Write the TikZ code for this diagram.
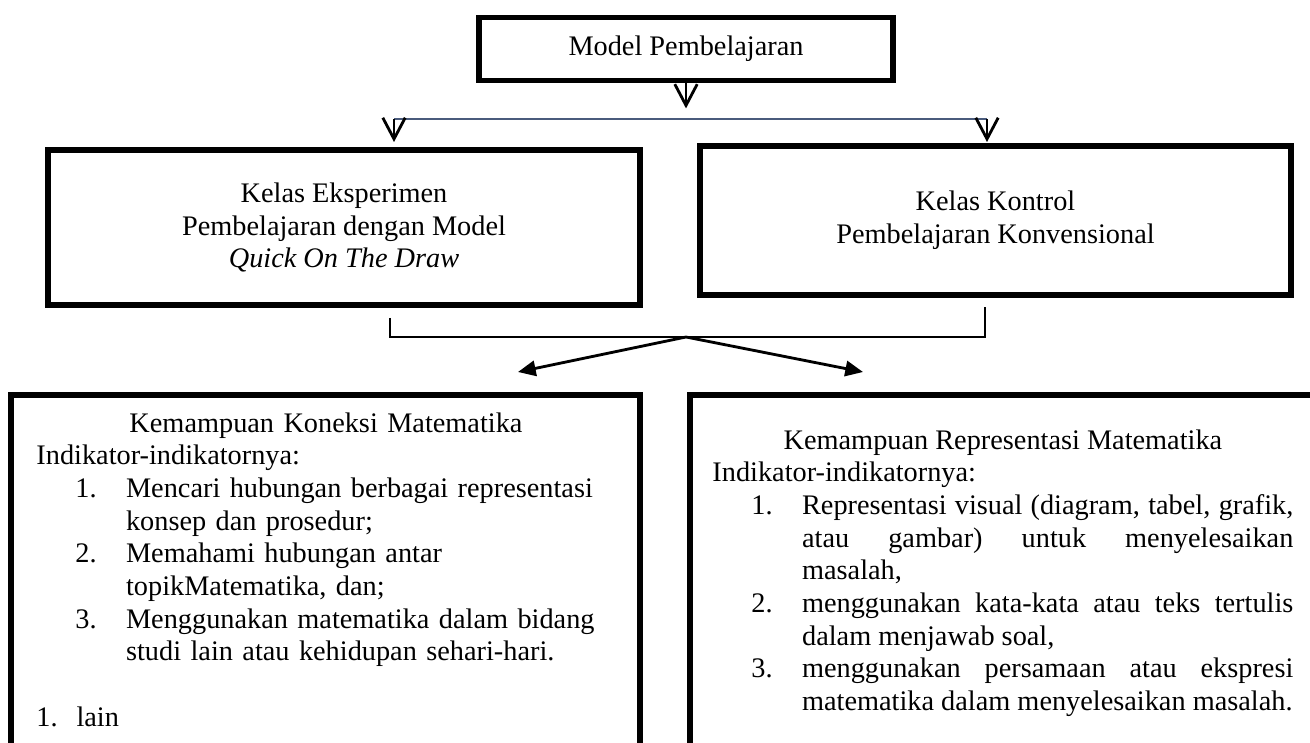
\documentclass[tikz,border=0pt]{standalone}
\usepackage{fontspec}
\setmainfont{Liberation Serif}
\usepackage{tikz}
\usepackage{xcolor}
\definecolor{line_slate}{HTML}{4A5B7C}
\usetikzlibrary{arrows.meta,calc}
\tikzset{BOX/.style={rectangle,draw,line width=2.5pt,align=center,font=\fontsize{12}{13.85}\selectfont}}
\tikzset{TEXTBLOCK/.style={anchor=north west,inner sep=0pt,font=\fontsize{12}{13.85}\selectfont}}
\tikzset{OPENARROW/.style={line width=0.7pt,-{Straight Barb[length=9pt,width=9.5pt,line width=1.2pt]}}}
\tikzset{ARROW/.style={line width=1.2pt,-{Triangle[length=7.5pt,width=6.5pt]}}}
\tikzset{LINK/.style={line width=0.7pt}}
\newcommand{\nitem}[1]{\par\noindent\hangindent=38pt\hangafter=1 \hspace*{16.5pt}\makebox[21.5pt][l]{#1}}

\begin{document}
\begin{tikzpicture}[x=0.424pt,y=-0.424pt]
\useasboundingbox (0,0) rectangle (1310,743);
\clip (0,0) rectangle (1310,743);

\node[BOX, minimum width=175.5pt, minimum height=26.7pt] (n_model) at (686,49) {Model Pembelajaran};
\node[BOX, minimum width=251pt, minimum height=65.7pt] (n_eksperimen) at (344,227.5) {
    Kelas Eksperimen\\Pembelajaran dengan Model\\\textit{Quick On The Draw}
};
\node[BOX, minimum width=250.6pt, minimum height=63.2pt] (n_kontrol) at (995.5,220.5) {
    Kelas Kontrol\\Pembelajaran Konvensional
};
\node[BOX, minimum width=266.7pt, minimum height=169.6pt] (n_koneksi) at (325.5,595) {};
\node[BOX, minimum width=271.4pt, minimum height=169.6pt] (n_representasi) at (1010,595) {};

\node[TEXTBLOCK, text width=245.5pt] (t_koneksi) at (36,412) {
    \parindent=0pt\raggedright
    {\centering Kemampuan Koneksi Matematika\par}
    Indikator-indikatornya:
    \nitem{1.}Mencari hubungan berbagai representasi\newline konsep dan prosedur;
    \nitem{2.}Memahami hubungan antar\newline topikMatematika, dan;
    \nitem{3.}Menggunakan matematika dalam bidang\newline studi lain atau kehidupan sehari-hari.\par
    \vspace{13.85pt}
    \makebox[17pt][l]{1.}lain\par
};
\node[TEXTBLOCK, text width=246.3pt, align=justify] (t_representasi) at (712,429) {
    \parindent=0pt\tolerance=10000
    {\centering Kemampuan Representasi Matematika\par}
    Indikator-indikatornya:
    \nitem{1.}Representasi visual (diagram, tabel, grafik,\linebreak atau gambar) untuk menyelesaikan\linebreak masalah,
    \nitem{2.}menggunakan kata-kata atau teks tertulis\linebreak dalam menjawab soal,
    \nitem{3.}menggunakan persamaan atau ekspresi\linebreak matematika dalam menyelesaikan masalah.\par
};

\coordinate (c_model_tip) at ($(n_model.south)+(0,25)$);
\draw[OPENARROW] (n_model.south) -- (c_model_tip);

\coordinate (c_split_l) at (394,119);
\coordinate (c_split_r) at (987,119);
\draw[LINK, line_slate, line width=0.6pt] (c_split_l) -- (c_split_r);

\coordinate (c_eksp_tip) at ($(c_split_l)+(0,23)$);
\coordinate (c_kontrol_tip) at ($(c_split_r)+(0,23)$);
\draw[OPENARROW] (c_split_l) -- (c_eksp_tip);
\draw[OPENARROW] (c_split_r) -- (c_kontrol_tip);

\coordinate (c_join_l) at ($(n_eksperimen.south)+(46,10)$);
\coordinate (c_join_r) at ($(n_kontrol.south)+(-10.5,9)$);
\coordinate (c_join_mid) at (686,337);
\draw[LINK] (c_join_l) -- (c_join_l|-c_join_mid) -- (c_join_r|-c_join_mid) -- (c_join_r);

\coordinate (c_koneksi_tip) at (518,372);
\coordinate (c_repr_tip) at (863,372);
\draw[ARROW] (c_join_mid) -- (c_koneksi_tip);
\draw[ARROW] (c_join_mid) -- (c_repr_tip);

\end{tikzpicture}
\end{document}
